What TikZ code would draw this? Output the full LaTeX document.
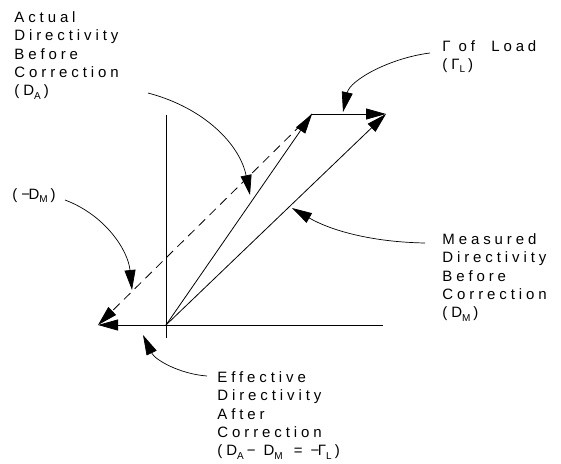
\documentclass[tikz,border=0pt]{standalone}
\usepackage{fontspec}
\setmainfont{Liberation Sans}[LetterSpace=26]
\usetikzlibrary{arrows.meta}
\newcommand{\lo}[1]{\raisebox{-0.4ex}{\fontsize{10}{10}\selectfont #1}\hspace{3pt}}

\begin{document}
\begin{tikzpicture}[x=1pt, y=-1pt, line width=0.8pt,
  every node/.style={font=\fontsize{15}{18.4}\selectfont, inner sep=0, align=left, anchor=north west},
  vec/.style={-{Triangle[length=20pt,width=11pt]}},
  callout/.style={-{Triangle[length=20pt,width=11pt]}, line width=0.7pt}]
\useasboundingbox (0,0) rectangle (561,463);
% axes
\coordinate (O) at (166,325);
\coordinate (ytop) at (166,115);
\coordinate (ybot) at (166,338);
\coordinate (xend) at (383,325);
\draw (ybot) -- (ytop);
\draw (O) -- (xend);
% vectors
\coordinate (DA) at (312,114);
\coordinate (DM) at (386,114);
\coordinate (DE) at (98,325);
\draw[vec] (O) -- (DA);
\draw[vec] (DA) -- (DM);
\draw[vec] (O) -- (DM);
\draw[vec] (O) -- (DE);
\draw[vec, dash pattern=on 9pt off 6pt] (DA) -- (DE);
% labels
\node (la) at (14,11) {Actual\\Directivity\\Before\\Correction\\(D\lo{A})};
\node (lg) at (442,40) {Γ of\ \ Load\\(Γ\lo{L})};
\node (lm) at (442,233) {Measured\\Directivity\\Before\\Correction\\(D\lo{M})};
\node (ln) at (12,188) {(−\kern-1.5pt D\lo{M})};
\node (le) at (217,371) {Effective\\Directivity\\After\\Correction\\(D\lo{A}− D\lo{M} = −\kern-1.5pt Γ\lo{L})};
% callouts
\coordinate (ca) at (148,93);   \coordinate (ta) at (250,195);
\coordinate (cg) at (430,53);   \coordinate (tg) at (343,112);
\coordinate (cm) at (425,243);  \coordinate (tm) at (292,208);
\coordinate (cn) at (65,200);   \coordinate (tn) at (132,290);
\coordinate (ce) at (207,376);  \coordinate (te) at (143,335);
\draw[callout] (ca) .. controls (205,108) and (240,145) .. (ta);
\draw[callout] (cg) .. controls (390,58) and (350,80) .. (tg);
\draw[callout] (cm) .. controls (370,242) and (330,230) .. (tm);
\draw[callout] (cn) .. controls (105,215) and (128,250) .. (tn);
\draw[callout] (ce) .. controls (180,374) and (155,360) .. (te);
\end{tikzpicture}
\end{document}
